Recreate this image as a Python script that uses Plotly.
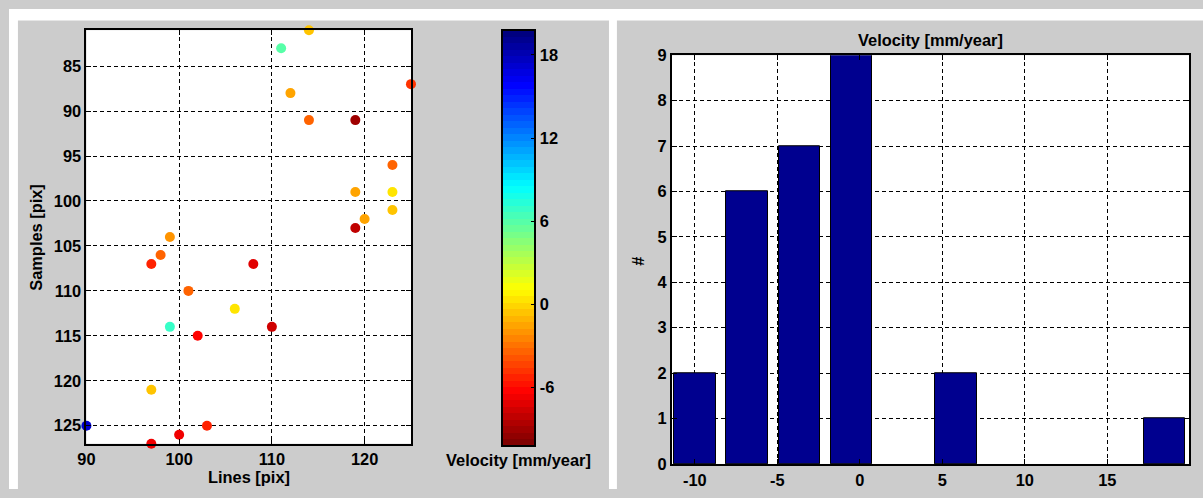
import plotly.graph_objects as go

# ---------------- data ----------------
lines_pix = [114, 111, 125, 112, 114, 119, 123, 119, 123, 123, 120, 119, 99,
             98, 97, 108, 101, 106, 99, 110, 102, 97, 90, 103, 100, 97]
samples_pix = [81, 83, 87, 88, 91, 91, 96, 99, 99, 101, 102, 103, 104,
               106, 107, 107, 110, 112, 114, 114, 115, 121, 125, 125, 126, 127]
velocity = [-0.8, 6.2, -5.0, -1.5, -3.6, -9.2, -3.2, -1.3, 0.15, -0.45, -1.3, -7.95, -1.8,
            -3.2, -5.5, -6.95, -3.6, 0.15, 6.9, -7.4, -6.0, -0.8, 17.0, -5.5, -6.45, -6.45]

hist_centers = [-9.98, -6.82, -3.66, -0.50, 2.66, 5.82, 8.98, 12.14, 15.30, 18.46]
hist_counts = [2, 6, 7, 9, 0, 2, 0, 0, 0, 1]

x_ticks = [90, 100, 110, 120]
y_ticks = [85, 90, 95, 100, 105, 110, 115, 120, 125]
cb_ticks = [-6, 0, 6, 12, 18]
hist_xticks = [-10, -5, 0, 5, 10, 15]
hist_yticks = list(range(10))

# ---------------- style ----------------
W, H = 1203, 498
FONT = "Liberation Sans"
FS = 16.4
GRAY = "#CCCCCC"
CMIN, CMAX = -10.2, 19.8


def px(x):
    return x / W


def py(y):
    return (H - y) / H


def clip(v):
    return max(0.0, min(1.0, v))

# MATLAB jet(64), flipped, stepped
N = 64
cols = []
for i in range(N):
    t = i / (N - 1)
    r = clip(1.5 - abs(4 * t - 3))
    g = clip(1.5 - abs(4 * t - 2))
    b = clip(1.5 - abs(4 * t - 1))
    cols.append(f"rgb({round(r*255)},{round(g*255)},{round(b*255)})")
cols = cols[::-1]
cscale = []
for i, c in enumerate(cols):
    cscale.append([i / N, c])
    cscale.append([(i + 1) / N, c])

tickfont = dict(family=FONT, size=FS, color="black", weight="bold")

fig = go.Figure()

fig.add_trace(go.Scatter(
    x=lines_pix, y=samples_pix, mode="markers", cliponaxis=False,
    marker=dict(size=10, color=velocity, colorscale=cscale, cmin=CMIN, cmax=CMAX,
                line=dict(width=0),
                colorbar=dict(
                    x=px(497), xanchor="left", xpad=0, ypad=0,
                    y=py(453.3), yanchor="bottom",
                    len=(453.3 - 21.7) / H, lenmode="fraction",
                    thickness=33, thicknessmode="pixels",
                    outlinecolor="black", outlinewidth=2,
                    tickvals=cb_ticks, ticktext=[str(v) for v in cb_ticks],
                    ticks="inside", ticklen=5,
                    tickcolor="black", tickfont=tickfont,
                )),
    xaxis="x", yaxis="y", showlegend=False, hoverinfo="skip",
))

fig.add_trace(go.Bar(
    x=hist_centers, y=hist_counts,
    width=0.8 * (hist_centers[1] - hist_centers[0]),
    marker=dict(color="#00008F",
                line=dict(color="black", width=[1 if c > 0 else 0 for c in hist_counts])),
    xaxis="x2", yaxis="y2", showlegend=False, hoverinfo="skip",
))

axis_common = dict(
    showline=True, linecolor="black", linewidth=2, mirror="ticks",
    ticks="inside", ticklen=5, tickcolor="black", tickwidth=1,
    showgrid=True, gridcolor="black", gridwidth=1, griddash="4px,3px",
    zeroline=False, tickfont=tickfont,
)

fig.update_layout(
    width=W, height=H, autosize=False,
    margin=dict(l=0, r=0, t=0, b=0),
    paper_bgcolor=GRAY, plot_bgcolor="white",
    xaxis=dict(domain=[px(78), px(405)], range=[90, 125], tickvals=x_ticks,
               ticktext=[str(v) for v in x_ticks], anchor="y", **axis_common),
    yaxis=dict(domain=[py(451), py(22)], range=[127, 81], tickvals=y_ticks,
               ticktext=[str(v) for v in y_ticks], anchor="x", **axis_common),
    xaxis2=dict(domain=[px(668), px(1189)], range=[-11.38, 19.96], tickvals=hist_xticks,
                ticktext=[str(v) for v in hist_xticks], anchor="y2", **axis_common),
    yaxis2=dict(domain=[py(472), py(48)], range=[0, 9], tickvals=hist_yticks,
                ticktext=[str(v) for v in hist_yticks], anchor="x2", **axis_common),
    bargap=0,
    shapes=[
        dict(type="rect", xref="paper", yref="paper", x0=0, x1=1, y0=py(12), y1=1,
             fillcolor="white", line=dict(width=0), layer="below"),
        dict(type="rect", xref="paper", yref="paper", x0=0, x1=px(9), y0=0, y1=1,
             fillcolor="white", line=dict(width=0), layer="below"),
        dict(type="rect", xref="paper", yref="paper", x0=px(604.5), x1=px(612.5), y0=0, y1=1,
             fillcolor="white", line=dict(width=0), layer="below"),
    ],
)

lab = dict(family=FONT, size=FS, color="black", weight="bold")
annotations = [
    dict(text="Lines [pix]", x=px(241.5), y=py(486), xref="paper", yref="paper",
         showarrow=False, font=lab, xanchor="center", yanchor="middle"),
    dict(text="Samples [pix]", x=px(27), y=py(236.5), xref="paper", yref="paper",
         showarrow=False, font=lab, textangle=-90, xanchor="center", yanchor="middle"),
    dict(text="Velocity [mm/year]", x=px(513.5), y=py(468), xref="paper", yref="paper",
         showarrow=False, font=lab, xanchor="center", yanchor="middle"),
    dict(text="Velocity [mm/year]", x=px(928), y=py(32), xref="paper", yref="paper",
         showarrow=False, font=lab, xanchor="center", yanchor="middle"),
    dict(text="#", x=px(633), y=py(262), xref="paper", yref="paper",
         showarrow=False, font=lab, textangle=-90, xanchor="center", yanchor="middle"),
]
fig.update_layout(annotations=annotations)

post = (
    "document.documentElement.style.margin='0';"
    "document.documentElement.style.padding='0';"
    "document.documentElement.style.overflow='hidden';"
    "document.body.style.margin='0';"
    "document.body.style.padding='0';"
    "document.body.style.overflow='hidden';"
    "var gd=document.getElementsByClassName('plotly-graph-div')[0];"
    "gd.style.position='fixed';gd.style.left='0px';gd.style.top='0px';"
)

fig.write_html("out.html", config={"displayModeBar": False}, post_script=post)
